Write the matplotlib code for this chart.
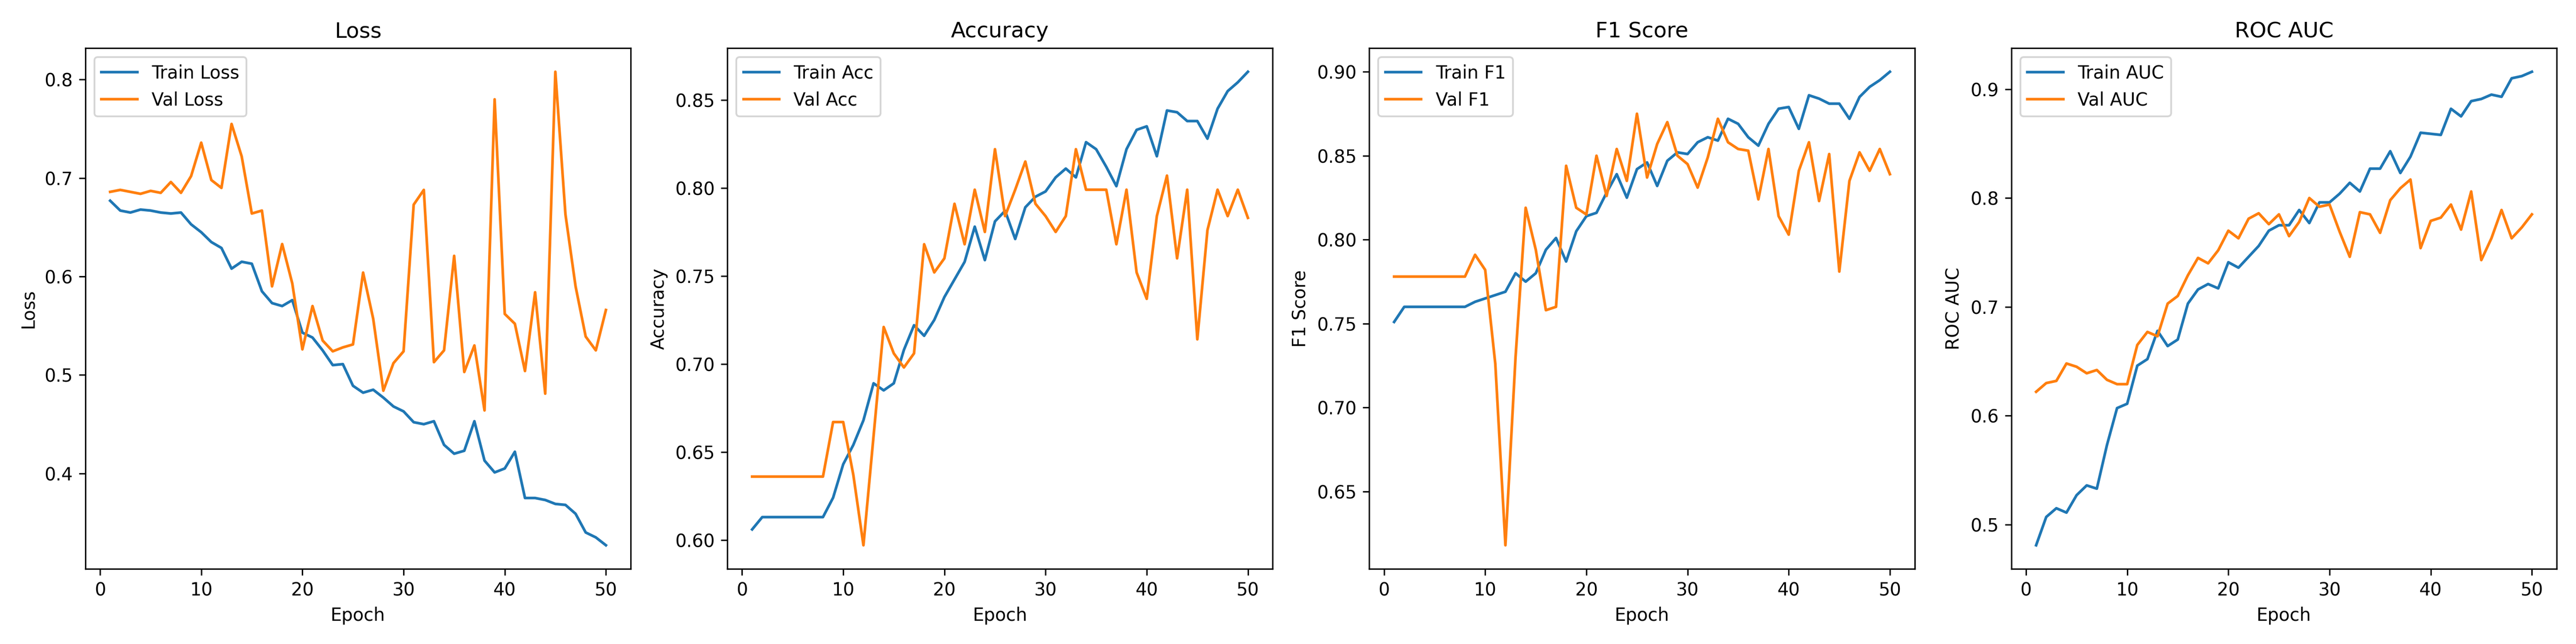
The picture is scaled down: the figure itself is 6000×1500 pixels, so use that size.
import matplotlib
matplotlib.use("Agg")
import matplotlib.pyplot as plt

epochs = list(range(1, 51))

train_loss = [0.677, 0.667, 0.665, 0.668, 0.667, 0.665, 0.664, 0.665, 0.653, 0.645,
              0.635, 0.629, 0.608, 0.615, 0.613, 0.585, 0.573, 0.570, 0.576, 0.543,
              0.538, 0.525, 0.510, 0.511, 0.489, 0.482, 0.485, 0.477, 0.468, 0.463,
              0.452, 0.450, 0.453, 0.429, 0.420, 0.423, 0.453, 0.413, 0.401, 0.405,
              0.422, 0.375, 0.375, 0.373, 0.369, 0.368, 0.359, 0.340, 0.335, 0.327]
val_loss = [0.686, 0.688, 0.686, 0.684, 0.687, 0.685, 0.696, 0.685, 0.702, 0.736,
            0.698, 0.690, 0.755, 0.722, 0.664, 0.667, 0.590, 0.633, 0.593, 0.526,
            0.570, 0.535, 0.524, 0.528, 0.531, 0.604, 0.557, 0.484, 0.512, 0.524,
            0.673, 0.688, 0.513, 0.525, 0.621, 0.503, 0.530, 0.464, 0.780, 0.562,
            0.552, 0.504, 0.584, 0.481, 0.808, 0.663, 0.590, 0.539, 0.525, 0.566]

train_acc = [0.606, 0.613, 0.613, 0.613, 0.613, 0.613, 0.613, 0.613, 0.624, 0.643,
             0.654, 0.668, 0.689, 0.685, 0.689, 0.708, 0.722, 0.716, 0.725, 0.738,
             0.748, 0.758, 0.778, 0.759, 0.781, 0.787, 0.771, 0.789, 0.795, 0.798,
             0.806, 0.811, 0.806, 0.826, 0.822, 0.812, 0.801, 0.822, 0.833, 0.835,
             0.818, 0.844, 0.843, 0.838, 0.838, 0.828, 0.845, 0.855, 0.860, 0.866]
val_acc = [0.636, 0.636, 0.636, 0.636, 0.636, 0.636, 0.636, 0.636, 0.667, 0.667,
           0.637, 0.597, 0.659, 0.721, 0.706, 0.698, 0.706, 0.768, 0.752, 0.760,
           0.791, 0.768, 0.799, 0.775, 0.822, 0.784, 0.799, 0.815, 0.791, 0.784,
           0.775, 0.784, 0.822, 0.799, 0.799, 0.799, 0.768, 0.799, 0.752, 0.737,
           0.784, 0.807, 0.760, 0.799, 0.714, 0.776, 0.799, 0.784, 0.799, 0.783]

train_f1 = [0.751, 0.760, 0.760, 0.760, 0.760, 0.760, 0.760, 0.760, 0.763, 0.765,
            0.767, 0.769, 0.780, 0.775, 0.780, 0.794, 0.801, 0.787, 0.805, 0.814,
            0.816, 0.828, 0.839, 0.825, 0.842, 0.846, 0.832, 0.847, 0.852, 0.851,
            0.858, 0.861, 0.859, 0.872, 0.869, 0.861, 0.856, 0.869, 0.878, 0.879,
            0.866, 0.886, 0.884, 0.881, 0.881, 0.872, 0.885, 0.891, 0.895, 0.900]
val_f1 = [0.778, 0.778, 0.778, 0.778, 0.778, 0.778, 0.778, 0.778, 0.791, 0.782,
          0.726, 0.618, 0.730, 0.819, 0.794, 0.758, 0.760, 0.844, 0.819, 0.815,
          0.850, 0.826, 0.854, 0.835, 0.875, 0.837, 0.857, 0.870, 0.850, 0.845,
          0.831, 0.849, 0.872, 0.858, 0.854, 0.853, 0.824, 0.854, 0.814, 0.803,
          0.841, 0.858, 0.823, 0.851, 0.781, 0.835, 0.852, 0.841, 0.854, 0.839]

train_auc = [0.481, 0.507, 0.515, 0.511, 0.527, 0.536, 0.533, 0.573, 0.607, 0.611,
             0.646, 0.652, 0.678, 0.664, 0.670, 0.703, 0.716, 0.721, 0.717, 0.741,
             0.736, 0.746, 0.756, 0.770, 0.775, 0.775, 0.789, 0.777, 0.796, 0.796,
             0.804, 0.814, 0.806, 0.827, 0.827, 0.843, 0.823, 0.838, 0.860, 0.859,
             0.858, 0.882, 0.875, 0.889, 0.891, 0.895, 0.893, 0.910, 0.912, 0.916]
val_auc = [0.622, 0.630, 0.632, 0.648, 0.645, 0.639, 0.642, 0.633, 0.629, 0.629,
           0.665, 0.677, 0.673, 0.703, 0.710, 0.729, 0.745, 0.740, 0.752, 0.770,
           0.763, 0.781, 0.786, 0.776, 0.785, 0.765, 0.778, 0.800, 0.792, 0.794,
           0.769, 0.746, 0.787, 0.785, 0.768, 0.798, 0.809, 0.817, 0.754, 0.779,
           0.782, 0.794, 0.771, 0.806, 0.743, 0.763, 0.789, 0.763, 0.773, 0.785]

panels = [
    ("Loss", "Loss", train_loss, val_loss, "Train Loss", "Val Loss"),
    ("Accuracy", "Accuracy", train_acc, val_acc, "Train Acc", "Val Acc"),
    ("F1 Score", "F1 Score", train_f1, val_f1, "Train F1", "Val F1"),
    ("ROC AUC", "ROC AUC", train_auc, val_auc, "Train AUC", "Val AUC"),
]

fig, axes = plt.subplots(1, 4, figsize=(20, 5))
for ax, (title, ylabel, tr, va, ltr, lva) in zip(axes, panels):
    ax.plot(epochs, tr, label=ltr)
    ax.plot(epochs, va, label=lva)
    ax.set_title(title)
    ax.set_xlabel("Epoch")
    ax.set_ylabel(ylabel)
    ax.legend(loc="upper left")

plt.tight_layout()
plt.savefig("out.png", dpi=300)
